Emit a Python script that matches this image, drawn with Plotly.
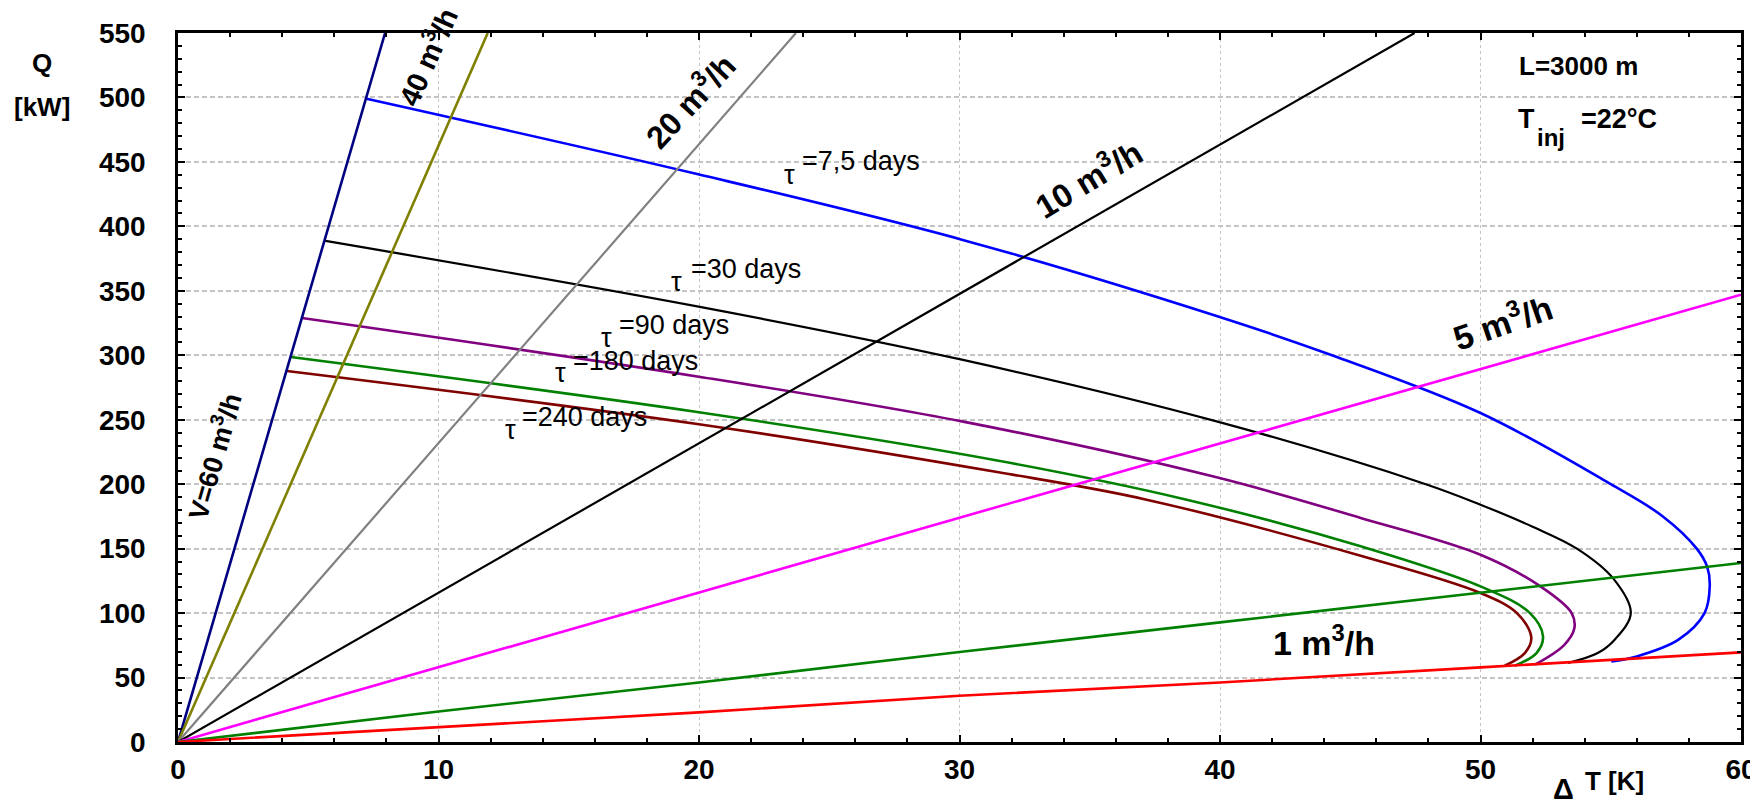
import plotly.graph_objects as go

# ---------------- data ----------------
# flow-rate lines: Q [kW] vs dT [K]
v60_dt = [0, 7.95];   v60_q = [0, 550]
v40_dt = [0, 11.89];  v40_q = [0, 550]
v20_dt = [0, 23.72];  v20_q = [0, 550]
v10_dt = [0, 47.47];  v10_q = [0, 550]
v5_dt = [0, 30, 60];  v5_q = [0, 174, 347]
v2_dt = [0, 10, 20, 30, 40, 50, 60]
v2_q = [0, 23.7, 46.2, 69.8, 92.8, 116, 138.9]
v1_dt = [0, 20, 30, 40, 50, 60]
v1_q = [0, 23.0, 35.9, 46.2, 57.9, 69.5]

# storage-time curves (tau)
t7_dt = [7.24, 19.93, 30.09, 39.87, 44.3, 50.0, 55.0, 57.0, 58.3, 58.7, 58.8, 58.6, 57.6, 56.0, 55.02]
t7_q = [499, 440.6, 389.7, 330.5, 300, 255.2, 200, 175, 150, 136, 121, 100, 79.4, 66.4, 62.5]
t30_dt = [5.61, 19.93, 30.09, 39.87, 47.9, 50.0, 52.0, 53.7, 55.1, 55.77, 55.15, 54.5, 53.36]
t30_q = [388.9, 337.9, 296.6, 248.7, 200, 184.1, 167, 150, 126.7, 100, 79.4, 69, 61.3]
t90_dt = [4.76, 19.93, 30.09, 39.87, 45.4, 50.0, 52.3, 53.5, 53.6, 53.2, 52.09]
t90_q = [328.9, 283.6, 248.7, 205.3, 173.8, 145.3, 120.7, 100, 88, 75, 60]
t180_dt = [4.33, 19.93, 31.5, 38.72, 45.4, 50.0, 51.9, 52.4, 52.15, 51.32]
t180_q = [298.6, 256, 218.2, 188, 151.8, 120.7, 100, 82, 69, 59.2]
t240_dt = [4.18, 19.93, 31.5, 37.18, 45.4, 50.0, 51.4, 51.95, 51.7, 50.93]
t240_q = [287.8, 246.7, 209.2, 188, 144.5, 115.6, 100, 81, 69, 59.2]

x_ticks = [0, 10, 20, 30, 40, 50, 60]
y_ticks = [0, 50, 100, 150, 200, 250, 300, 350, 400, 450, 500, 550]

FONT = "Liberation Sans, Arial, sans-serif"

# ---------------- geometry (screen pixels) ----------------
SCR_W, SCR_H = 1758, 804
OFF = 8                      # default page margin around the plot div
L, R, T, B = 178, 1741, 33.3, 742.3


def pos(X, Y):
    return (X - L) / (R - L), (B - Y) / (B - T)


fig = go.Figure()


def line(xs, ys, color, width=2.5, spline=False):
    fig.add_trace(go.Scatter(
        x=xs, y=ys, mode="lines",
        line=dict(color=color, width=width,
                  shape="spline" if spline else "linear", smoothing=1.0),
        hoverinfo="skip", showlegend=False, cliponaxis=True))


line(t7_dt, t7_q, "#0000ff", 2.6, True)
line(t30_dt, t30_q, "#000000", 2.2, True)
line(t90_dt, t90_q, "#800080", 2.6, True)
line(t180_dt, t180_q, "#008000", 2.6, True)
line(t240_dt, t240_q, "#800000", 2.6, True)

line(v60_dt, v60_q, "#000080", 2.6)
line(v40_dt, v40_q, "#808000", 2.6)
line(v20_dt, v20_q, "#808080", 2.2)
line(v10_dt, v10_q, "#000000", 2.2)
line(v5_dt, v5_q, "#ff00ff", 2.6)
line(v2_dt, v2_q, "#008000", 2.6)
line(v1_dt, v1_q, "#ff0000", 2.6)

ann = []


def text(X, Y, s, size, bold=False, angle=0, xanchor="center"):
    px_, py_ = pos(X, Y)
    ann.append(dict(x=px_, y=py_, xref="paper", yref="paper", text=s,
                    showarrow=False, textangle=angle, xanchor=xanchor,
                    yanchor="middle",
                    font=dict(family=FONT, size=size, color="black",
                              weight="bold" if bold else "normal")))


# axis titles
text(42, 63, "Q", 26, True)
text(42, 107, "[kW]", 26, True)
text(1563, 789, "Δ", 29, True)
text(1614, 781, "T [K]", 26, True)

# info box
text(1517, 66, "L=3000 m", 26, True, xanchor="left")
text(1516, 119, "T", 27, True, xanchor="left")
text(1535, 138, "inj", 24, True, xanchor="left")
text(1579, 119, "=22°C", 27, True, xanchor="left")

# flow-rate labels
text(213, 456, "V=60 m<sup>3</sup>/h", 27, True, angle=-74)
text(426, 57, "40 m<sup>3</sup>/h", 29, True, angle=-66)
text(689, 100, "20 m<sup>3</sup>/h", 32, True, angle=-47)
text(1087, 178, "10 m<sup>3</sup>/h", 33, True, angle=-31)
text(1502, 321, "5 m<sup>3</sup>/h", 34, True, angle=-19)
text(1324, 641, "1 m<sup>3</sup>/h", 34, True)

# tau labels
for tx, ty, lx, ly, s in [
    (789, 175, 800, 161, "=7,5 days"),
    (676, 282, 689, 269, "=30 days"),
    (606, 338, 617, 325, "=90 days"),
    (560, 373, 571, 361, "=180 days"),
    (510, 430, 520, 417, "=240 days"),
]:
    text(tx, ty, "τ", 27)
    text(lx, ly, s, 27, xanchor="left")

bx0, by0 = pos(1503, 45)
bx1, by1 = pos(1698, 150)
fig.add_shape(type="rect", xref="paper", yref="paper", x0=bx0, x1=bx1,
              y0=by1, y1=by0, fillcolor="white", line=dict(width=0),
              layer="between")

fig.update_layout(
    width=SCR_W - OFF, height=SCR_H - OFF,
    margin=dict(l=L - OFF, r=SCR_W - R, t=T - OFF, b=SCR_H - B,
                autoexpand=False),
    paper_bgcolor="white", plot_bgcolor="white",
    showlegend=False, annotations=ann,
)

axis_common = dict(
    showgrid=True, gridcolor="#c4c4c4",
    showline=True, linecolor="black", linewidth=2.5, mirror="allticks",
    ticks="inside", ticklen=7, tickwidth=2, tickcolor="black",
    zeroline=False,
    tickfont=dict(family=FONT, size=28, color="black", weight="bold"),
)
fig.update_xaxes(range=[0, 60], tickvals=x_ticks, griddash="3px,3px",
                 gridwidth=1.3, ticklabelstandoff=1,
                 minor=dict(dtick=2, tick0=0, ticks="inside", ticklen=4,
                            tickwidth=1.5, tickcolor="black", showgrid=False),
                 **axis_common)
fig.update_yaxes(range=[0, 550], tickvals=y_ticks, griddash="5px,3px",
                 gridwidth=1.5, ticklabelstandoff=24,
                 minor=dict(dtick=10, tick0=0, ticks="inside", ticklen=4,
                            tickwidth=1.5, tickcolor="black", showgrid=False),
                 **axis_common)

fig.write_html("out.html")
